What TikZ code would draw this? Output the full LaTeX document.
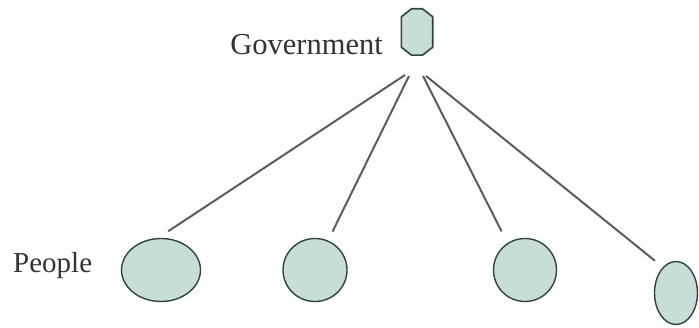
\documentclass[tikz,border=0pt]{standalone}
\usepackage{fontspec}
\setmainfont{Liberation Serif}
\usetikzlibrary{shapes.geometric}
\definecolor{blobfill}{HTML}{C8DDD7}
\definecolor{blobedge}{HTML}{2C4444}
\definecolor{tiegray}{HTML}{5C5C5C}
\tikzset{
  blob/.style={ellipse, draw=blobedge, fill=blobfill, line width=1.4pt, inner sep=0pt},
  govbox/.style={rectangle, inner sep=0pt, minimum width=31pt, minimum height=46pt},
  octo/.style={draw=blobedge, fill=blobfill, line width=1.6pt, line join=round},
  tie/.style={draw=tiegray, line width=2pt},
  lbl/.style={text=black!80, inner sep=0pt}
}
\begin{document}
\begin{tikzpicture}[x=1pt,y=1pt]
  \useasboundingbox (0,0) rectangle (699,327);
  % government at the top: an upright octagon
  \node[govbox] (gov) at (417,295) {};
  \path[octo] ([xshift=-5.5pt]gov.north) -- ([xshift=5.5pt]gov.north)
    -- ([yshift=-8pt]gov.north east) -- ([yshift=8pt]gov.south east)
    -- ([xshift=5.5pt]gov.south) -- ([xshift=-5.5pt]gov.south)
    -- ([yshift=8pt]gov.south west) -- ([yshift=-8pt]gov.north west) -- cycle;
  \node[lbl, anchor=base east, font=\fontsize{30.5}{34}\selectfont] (govlbl) at (383,272) {Government};
  % people at the bottom
  \node[lbl, anchor=base west, font=\fontsize{29}{33}\selectfont] (peoplelbl) at (13,55) {People};
  \node[blob, minimum width=79pt, minimum height=63pt] (p1) at (161,57) {};
  \node[blob, minimum width=64pt, minimum height=63pt] (p2) at (315,57) {};
  \node[blob, minimum width=63pt, minimum height=63pt] (p3) at (525,57) {};
  \node[blob, minimum width=43pt, minimum height=63pt] (p4) at (676,34) {};
  % upper ends of the ties, just below the government
  \coordinate (t1) at (405,252);
  \coordinate (t2) at (409,251);
  \coordinate (t3) at (423,251);
  \coordinate (t4) at (426,251);
  \draw[tie, shorten >=12pt] (t1) -- (p1.95);
  \draw[tie, shorten >=10pt] (t2) -- (p2.66);
  \draw[tie, shorten >=13pt] (t3) -- (p3.123);
  \draw[tie, shorten >=10pt] (t4) -- (p4.117);
\end{tikzpicture}
\end{document}
